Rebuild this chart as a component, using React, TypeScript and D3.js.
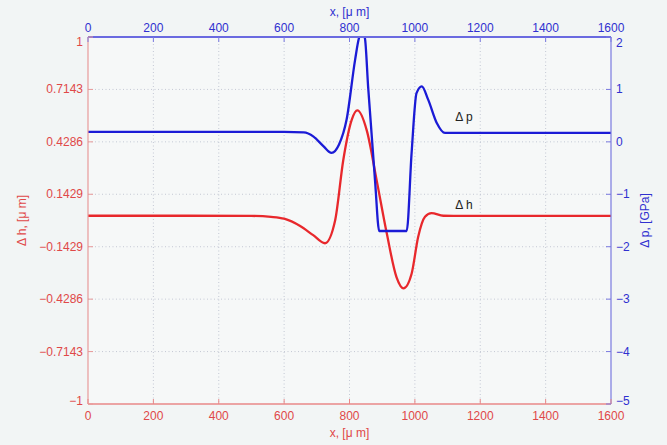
import React from "react";
import * as d3 from "d3";

const xTicks = [0, 200, 400, 600, 800, 1000, 1200, 1400, 1600];
const hTicks = [-1, -0.7143, -0.4286, -0.1429, 0.1429, 0.4286, 0.7143, 1];
const hTickLabels = ["\u22121", "\u22120.7143", "\u22120.4286", "\u22120.1429", "0.1429", "0.4286", "0.7143", "1"];
const pTicks = [-5, -4, -3, -2, -1, 0, 1, 2];

// Δh, [μm] (left axis)
const hX = [0, 300, 500, 560, 600, 649, 689, 725, 756, 781, 807, 824, 853, 883, 914, 944, 965, 990, 1010, 1031, 1051, 1087, 1200, 1600];
const hY = [0.026, 0.026, 0.025, 0.02, 0.01, -0.03, -0.08, -0.124, 0.0, 0.33, 0.55, 0.6, 0.49, 0.22, -0.07, -0.31, -0.37, -0.29, -0.09, 0.02, 0.04, 0.026, 0.025, 0.025];

// Δp, [GPa] (right axis)
const pX = [0, 600, 660, 690, 720, 745, 768, 791, 817, 829, 838, 847, 857, 878, 891, 975, 990, 1005, 1021, 1041, 1067, 1092, 1120, 1600];
const pY = [0.19, 0.19, 0.18, 0.1, -0.08, -0.21, -0.05, 0.42, 1.56, 1.98, 2.08, 1.98, 1.05, -0.73, -1.7, -1.7, -0.21, 0.93, 1.06, 0.8, 0.36, 0.17, 0.17, 0.17];

const W = 667, H = 445;
const L = 88, R = 611, T = 37, B = 404;
const RED = "#e8282c";
const BLUE = "#1b1bd6";
const RED_T = "#e04848";
const BLUE_T = "#3030d0";
const FONT = "'Liberation Sans', Arial, sans-serif";

export default function App() {
  const x = d3.scaleLinear().domain([0, 1600]).range([L, R]);
  const yh = d3.scaleLinear().domain([-1, 1]).range([B, T]);
  const yp = d3.scaleLinear().domain([-5, 2]).range([B, T]);

  const lineH = d3.line<number>().x((_, i) => x(hX[i])).y((d) => yh(d)).curve(d3.curveMonotoneX);
  const lineP = d3.line<number>().x((_, i) => x(pX[i])).y((d) => yp(d)).curve(d3.curveMonotoneX);

  const pLabelY = (t: number) => {
    if (t === 2) return yp(t) + 10;
    if (t === -5) return yp(t) + 1;
    return yp(t) + 4;
  };
  const hLabelY = (t: number) => {
    if (t === 1) return yh(t) + 9;
    if (t === -1) return yh(t) + 1;
    return yh(t) + 4;
  };

  return (
    <svg width={W} height={H} style={{ position: "absolute", left: 0, top: 0, background: "#f2f5f5" }} fontFamily={FONT}>
      <defs>
        <clipPath id="plotclip">
          <rect x={L} y={T} width={R - L} height={B - T} />
        </clipPath>
      </defs>
      <rect x={0} y={0} width={W} height={H} fill="#f2f5f5" />
      <rect x={L} y={T} width={R - L} height={B - T} fill="#f6f8f8" />
      {/* grid */}
      {xTicks.slice(1, -1).map((t) => (
        <line key={"gx" + t} x1={x(t)} x2={x(t)} y1={T} y2={B} stroke="#b8bccc" strokeWidth={0.8} strokeDasharray="1,2.5" />
      ))}
      {hTicks.slice(1, -1).map((t) => (
        <line key={"gy" + t} x1={L} x2={R} y1={yh(t)} y2={yh(t)} stroke="#b8bccc" strokeWidth={0.8} strokeDasharray="1,2.5" />
      ))}
      {/* curves */}
      <g clipPath="url(#plotclip)">
        <path d={lineH(hY) || ""} fill="none" stroke={RED} strokeWidth={2.3} />
        <path d={lineP(pY) || ""} fill="none" stroke={BLUE} strokeWidth={2.3} />
      </g>
      {/* axes lines */}
      <line x1={L} x2={L} y1={T} y2={B} stroke="#e89a9a" strokeWidth={1.2} />
      <line x1={L} x2={R} y1={B} y2={B} stroke="#e88888" strokeWidth={1.5} />
      <line x1={R} x2={R} y1={T} y2={B} stroke="#7a7ae0" strokeWidth={1.2} />
      <line x1={L} x2={R} y1={T} y2={T} stroke="#6a6ae0" strokeWidth={2} />
      {/* bottom ticks */}
      {xTicks.map((t) => (
        <g key={"bx" + t}>
          <line x1={x(t)} x2={x(t)} y1={B} y2={B - 5} stroke="#e88888" />
          <text x={x(t)} y={B + 16} textAnchor="middle" fontSize={12} fill={RED_T}>{t}</text>
        </g>
      ))}
      {/* top ticks */}
      {xTicks.map((t) => (
        <g key={"tx" + t}>
          <line x1={x(t)} x2={x(t)} y1={T} y2={T + 5} stroke="#7a7ae0" />
          <text x={x(t)} y={T - 5} textAnchor="middle" fontSize={12} fill={BLUE_T}>{t}</text>
        </g>
      ))}
      {/* left ticks */}
      {hTicks.map((t, i) => (
        <g key={"ly" + t}>
          <line x1={L} x2={L + 5} y1={yh(t)} y2={yh(t)} stroke="#e89a9a" />
          <text x={L - 5} y={hLabelY(t)} textAnchor="end" fontSize={12} fill={RED_T}>{hTickLabels[i]}</text>
        </g>
      ))}
      {/* right ticks */}
      {pTicks.map((t) => (
        <g key={"ry" + t}>
          <line x1={R} x2={R - 5} y1={yp(t)} y2={yp(t)} stroke="#7a7ae0" />
          <text x={R + 5} y={pLabelY(t)} textAnchor="start" fontSize={12} fill={BLUE_T}>{t < 0 ? "\u2212" + Math.abs(t) : String(t)}</text>
        </g>
      ))}
      {/* axis titles */}
      <text x={(L + R) / 2} y={16} textAnchor="middle" fontSize={12} fill={BLUE_T}>x, [μ m]</text>
      <text x={(L + R) / 2} y={437} textAnchor="middle" fontSize={12} fill={RED_T}>x, [μ m]</text>
      <text transform={`translate(26,${(T + B) / 2}) rotate(-90)`} textAnchor="middle" fontSize={12} fill={RED_T}>Δ h, [μ m]</text>
      <text transform={`translate(649,${(T + B) / 2}) rotate(-90)`} textAnchor="middle" fontSize={12} fill={BLUE_T}>Δ p, [GPa]</text>
      {/* annotations */}
      <text x={x(1150)} y={121} textAnchor="middle" fontSize={12} fill="#222">Δ p</text>
      <text x={x(1150)} y={209} textAnchor="middle" fontSize={12} fill="#222">Δ h</text>
    </svg>
  );
}
